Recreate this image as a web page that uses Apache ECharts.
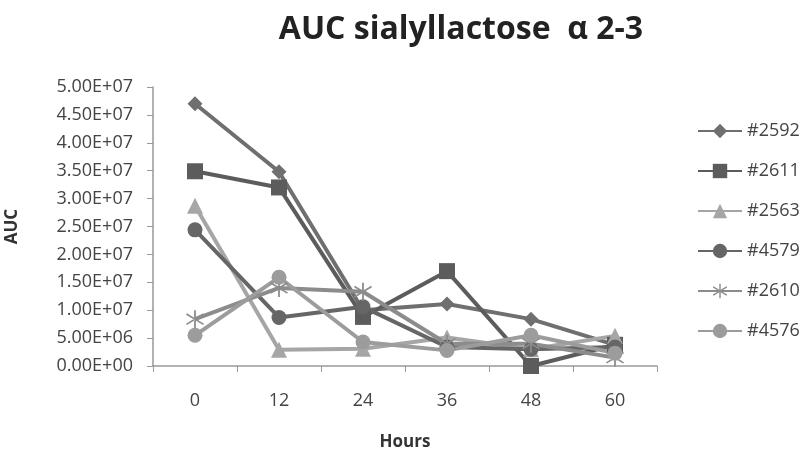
<!DOCTYPE html>
<html>
<head>
<meta charset="utf-8">
<script src="https://cdn.jsdelivr.net/npm/echarts@6/dist/echarts.min.js"></script>
<style>
  html, body { margin: 0; padding: 0; background: #fff; }
  #chart0 { width: 800px; height: 454px; }
</style>
</head>
<body>
<div id="chart0"></div>
<script>
var hours = ['0', '12', '24', '36', '48', '60']
var names = ['#2592', '#2611', '#2563', '#4579', '#2610', '#4576']
var s2592 = [4.70e7, 3.48e7, 1.00e7, 1.11e7, 8.4e6, 3.8e6]
var s2611 = [3.49e7, 3.20e7, 8.8e6, 1.70e7, 0, 3.8e6]
var s2563 = [2.87e7, 2.9e6, 3.1e6, 5.1e6, 3.0e6, 5.4e6]
var s4579 = [2.44e7, 8.7e6, 1.06e7, 3.4e6, 3.0e6, 3.4e6]
var s2610 = [8.4e6, 1.40e7, 1.33e7, 4.0e6, 4.0e6, 1.5e6]
var s4576 = [5.5e6, 1.59e7, 4.3e6, 2.8e6, 5.5e6, 2.3e6]

// asterisk marker for #2610
var star = 'path://M9,0L11,0L11,20L9,20Z M0,5L1,3.4L20,15L19,16.6Z M0,15L1,16.6L20,5L19,3.4Z'

function sci(v) {
  var s = Number(v).toExponential(2).toUpperCase()
  return s.replace(/E([+-])(\d)$/, 'E$10$2')
}

function mk(name, data, color, symbol, size) {
  return {
    name: name,
    type: 'line',
    data: data,
    symbol: symbol,
    symbolSize: size,
    lineStyle: { color: color, width: 4 },
    itemStyle: { color: color },
    z: 2
  }
}

var chart0 = echarts.init(document.getElementById('chart0'))
var option0 = {
  animation: false,
  backgroundColor: '#fff',
  title: {
    text: 'AUC sialyllactose  α 2-3',
    left: 456,
    textAlign: 'center',
    top: 9,
    textStyle: { fontFamily: 'Open Sans', fontSize: 32, fontWeight: 'bold', color: '#222' }
  },
  legend: {
    orient: 'vertical',
    left: 692,
    top: 117,
    itemGap: 22,
    itemWidth: 44,
    itemHeight: 18,
    textStyle: { fontFamily: 'Open Sans', fontSize: 18, color: '#444' },
    data: names
  },
  grid: { left: 153, right: 143, top: 87, bottom: 88, outerBoundsMode: 'none' },
  xAxis: {
    type: 'category',
    data: hours,
    boundaryGap: true,
    name: 'Hours',
    nameLocation: 'middle',
    nameGap: 68,
    nameTextStyle: { fontFamily: 'Open Sans', fontSize: 17, fontWeight: 'bold', color: '#333' },
    axisLine: { lineStyle: { color: '#999', width: 1.5 } },
    axisTick: { show: true, length: 6, lineStyle: { color: '#999' } },
    axisLabel: { fontFamily: 'Open Sans', fontSize: 18, color: '#444', margin: 26 }
  },
  yAxis: {
    type: 'value',
    min: 0,
    max: 5e7,
    interval: 5e6,
    name: 'AUC',
    nameLocation: 'middle',
    nameGap: 132,
    nameTextStyle: { fontFamily: 'Open Sans', fontSize: 17, fontWeight: 'bold', color: '#333' },
    axisLine: { show: true, lineStyle: { color: '#999', width: 1.5 } },
    axisTick: { show: true, length: 6, lineStyle: { color: '#999' } },
    splitLine: { show: false },
    axisLabel: { fontFamily: 'Open Sans', fontSize: 18, color: '#444', margin: 20, formatter: sci }
  },
  series: [
    mk('#2592', s2592, '#6f6f6f', 'diamond', 15),
    mk('#2611', s2611, '#5c5c5c', 'rect', 16),
    mk('#2563', s2563, '#a6a6a6', 'triangle', 16),
    mk('#4579', s4579, '#666666', 'circle', 15),
    mk('#2610', s2610, '#8c8c8c', star, 18),
    mk('#4576', s4576, '#9c9c9c', 'circle', 15)
  ]
}
chart0.setOption(option0)
</script>
</body>
</html>
